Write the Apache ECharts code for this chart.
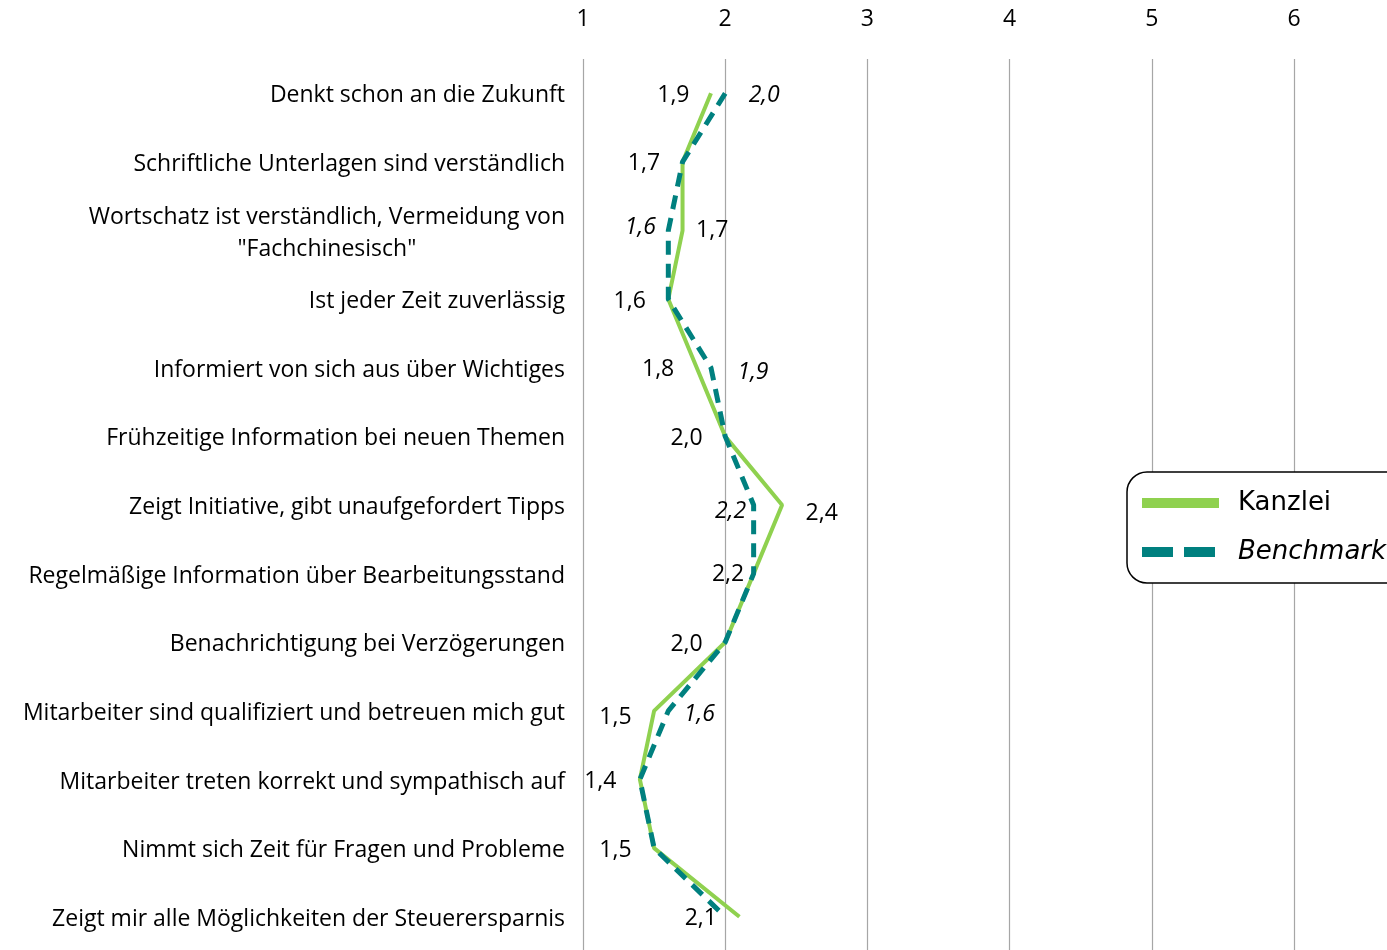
<!DOCTYPE html>
<html><head><meta charset="utf-8">
<script src="https://cdn.jsdelivr.net/npm/echarts@6/dist/echarts.min.js"></script>
<style>html,body{margin:0;padding:0;background:#fff;overflow:hidden}#c{width:1387px;height:950px}</style>
</head><body><div id="c"></div>
<script>
const categories = [
  'Denkt schon an die Zukunft',
  'Schriftliche Unterlagen sind verständlich',
  'Wortschatz ist verständlich, Vermeidung von\n"Fachchinesisch"',
  'Ist jeder Zeit zuverlässig',
  'Informiert von sich aus über Wichtiges',
  'Frühzeitige Information bei neuen Themen',
  'Zeigt Initiative, gibt unaufgefordert Tipps',
  'Regelmäßige Information über Bearbeitungsstand',
  'Benachrichtigung bei Verzögerungen',
  'Mitarbeiter sind qualifiziert und betreuen mich gut',
  'Mitarbeiter treten korrekt und sympathisch auf',
  'Nimmt sich Zeit für Fragen und Probleme',
  'Zeigt mir alle Möglichkeiten der Steuerersparnis'
];
const kanzlei   = [1.9, 1.7, 1.7, 1.6, 1.8, 2.0, 2.4, 2.2, 2.0, 1.5, 1.4, 1.5, 2.1];
const benchmark = [2.0, 1.7, 1.6, 1.6, 1.9, 2.0, 2.2, 2.2, 2.0, 1.6, 1.4, 1.5, 2.0];
const benchmarkLabelShown = [true, false, true, false, true, false, true, false, false, true, false, false, false];
const xTicks = [1, 2, 3, 4, 5, 6, 7];

// label placement (style only)
const kLabelStyle = [
  ['left', 21, 2], ['left', 22, 2], ['right', 13, 0], ['left', 22, 2], ['left', 22, 2],
  ['left', 22, 2], ['right', 23, 8], ['left', 9, 1], ['left', 22, 2], ['left', 22, 7],
  ['left', 23, 2], ['left', 22, 2], ['left', 22, 2]
];
const bLabelStyle = [
  ['right', 23, 2], ['right', 20, 0], ['left', 12, -3], ['right', 20, 0], ['right', 26, 5],
  ['right', 20, 0], ['left', 7, 6], ['right', 20, 0], ['right', 20, 0], ['right', 15, 4],
  ['right', 20, 0], ['right', 20, 0], ['right', 20, 0]
];
const FONT = 'Open Sans';
const fmt = v => v.toFixed(1).replace('.', ',');

const kData = kanzlei.map((v, i) => ({
  value: v,
  label: { show: true, position: kLabelStyle[i][0], distance: kLabelStyle[i][1], offset: [0, kLabelStyle[i][2]] }
}));
const bData = benchmark.map((v, i) => ({
  value: v,
  label: { show: benchmarkLabelShown[i], position: bLabelStyle[i][0], distance: bLabelStyle[i][1], offset: [0, bLabelStyle[i][2]] }
}));

const chart = echarts.init(document.getElementById('c'), null, { renderer: 'canvas' });
chart.setOption({
  animation: false,
  backgroundColor: '#fff',
  grid: { left: 583, top: 59, width: 853.2, height: 892, containLabel: false, outerBoundsMode: 'none' },
  xAxis: {
    type: 'value', position: 'top', min: xTicks[0], max: xTicks[xTicks.length - 1], interval: 1,
    axisLine: { show: false }, axisTick: { show: false },
    axisLabel: { margin: 28, fontFamily: FONT, fontSize: 23, color: '#000', formatter: v => String(v) },
    splitLine: { show: true, lineStyle: { color: '#a6a6a6', width: 1.2 } }
  },
  yAxis: {
    type: 'category', inverse: true, data: categories,
    axisLine: { show: false }, axisTick: { show: false }, splitLine: { show: false },
    axisLabel: {
      margin: 18, fontFamily: FONT, fontSize: 23, color: '#000', lineHeight: 32, padding: [5, 0, 0, 0],
      formatter: v => {
        const parts = v.split('\n');
        if (parts.length === 1) return v;
        return parts[0] + '\n{c|' + parts[1] + '}';
      },
      rich: { c: { align: 'center', fontFamily: FONT, fontSize: 23, color: '#000', lineHeight: 32 } }
    }
  },
  legend: {
    left: 1127, top: 472, orient: 'vertical',
    itemWidth: 77, itemHeight: 26, itemGap: 23,
    padding: [18, 40, 18, 10],
    borderColor: '#000', borderWidth: 1.5, borderRadius: 20,
    backgroundColor: '#fff',
    textStyle: { fontFamily: 'DejaVu Sans', fontSize: 26, lineHeight: 26, color: '#000', padding: [0, 0, 0, 14] },
    data: [
      { name: 'Kanzlei', lineStyle: { width: 10, type: 'solid', cap: 'butt' } },
      { name: 'Benchmark', lineStyle: { width: 10, type: [31, 11], cap: 'butt' }, textStyle: { fontStyle: 'italic' } }
    ]
  },
  series: [
    {
      name: 'Kanzlei', type: 'line', data: kData, symbol: 'circle', symbolSize: 1,
      itemStyle: { color: 'rgba(0,0,0,0)' },
      lineStyle: { color: '#8fd14f', width: 4 },
      label: { fontFamily: FONT, fontSize: 23, color: '#000', formatter: p => fmt(p.value) },
      z: 2
    },
    {
      name: 'Benchmark', type: 'line', data: bData, symbol: 'circle', symbolSize: 1,
      itemStyle: { color: 'rgba(0,0,0,0)' },
      lineStyle: { color: '#00807f', width: 5, type: [14, 9] },
      label: { fontFamily: FONT, fontSize: 23, fontStyle: 'italic', color: '#000', formatter: p => fmt(p.value) },
      z: 3
    }
  ]
});
</script></body></html>
